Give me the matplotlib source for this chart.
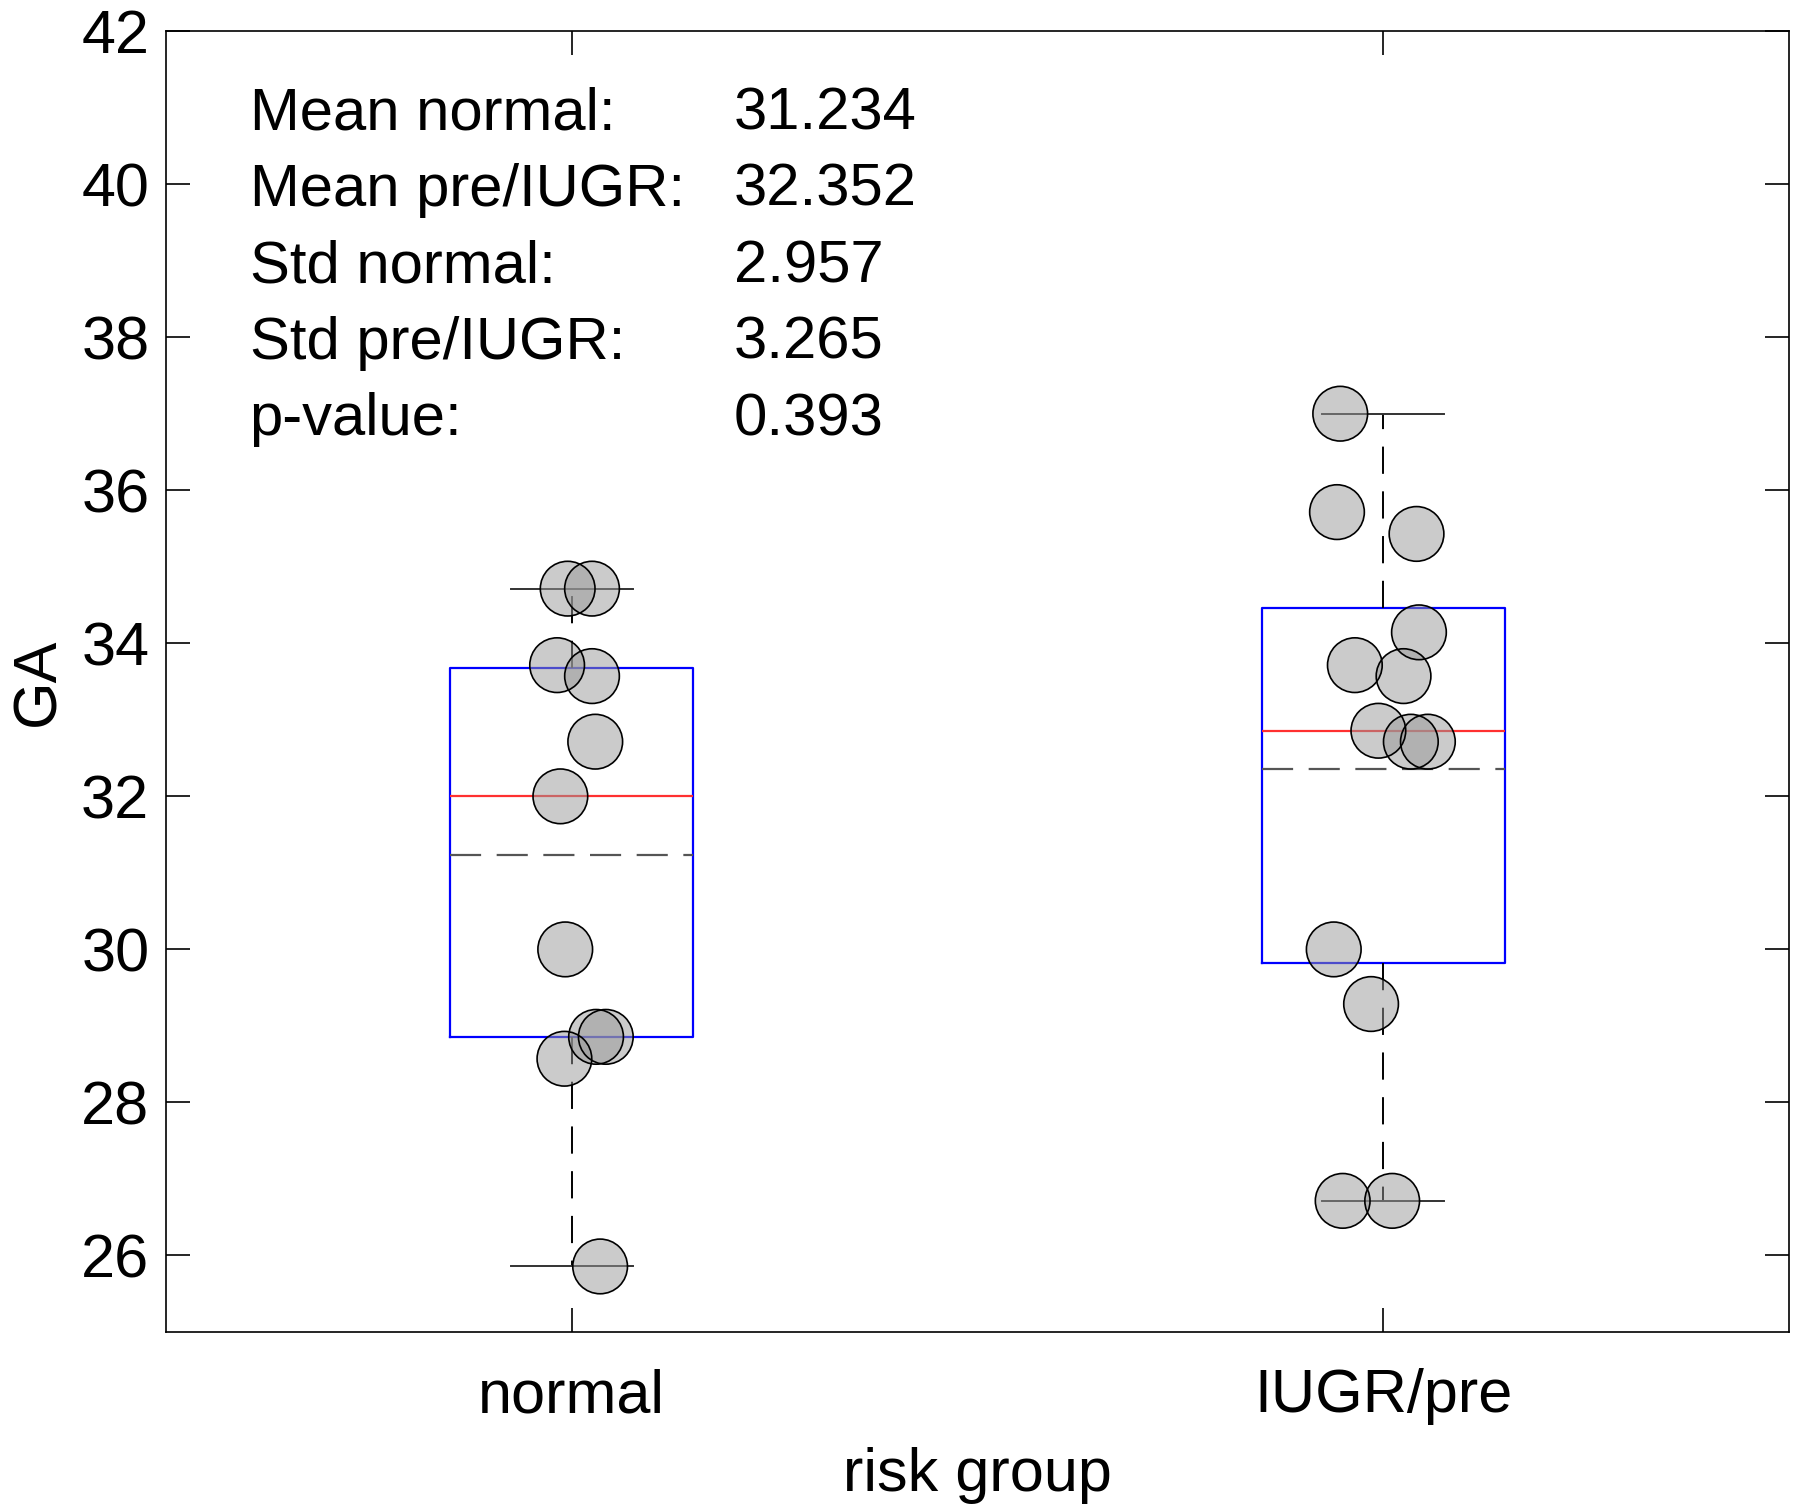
import numpy as np
import matplotlib
matplotlib.use("Agg")
import matplotlib.pyplot as plt

plt.rcParams['font.family'] = ['Liberation Sans', 'DejaVu Sans']

groups = ["normal", "IUGR/pre"]

# gestational age (weeks)
ga_normal = [34.714, 34.714, 33.714, 33.571, 32.714, 32.0, 30.0,
             28.857, 28.857, 28.571, 25.857]
jit_normal = [-0.005, 0.025, -0.018, 0.025, 0.029, -0.014, -0.008,
              0.030, 0.042, -0.009, 0.035]

ga_iugr = [37.0, 35.714, 35.429, 34.143, 33.714, 33.571, 32.857,
           32.714, 32.714, 30.0, 29.286, 26.714, 26.714]
jit_iugr = [-0.053, -0.057, 0.041, 0.044, -0.035, 0.025, -0.006,
            0.034, 0.055, -0.061, -0.015, -0.050, 0.011]

p_value = 0.393

data = [np.array(ga_normal), np.array(ga_iugr)]
jitter = [jit_normal, jit_iugr]

stats = []
for d in data:
    q1, med, q3 = np.percentile(d, [25, 50, 75], method="hazen")
    stats.append({"med": med, "q1": q1, "q3": q3,
                  "whislo": d.min(), "whishi": d.max(),
                  "mean": d.mean(), "fliers": []})

fig = plt.figure(figsize=(18, 15.08), dpi=100)
ax = fig.add_axes([0.0922, 0.1167, 0.9017, 0.8627])

ax.bxp(stats, positions=[1, 2], widths=0.3, showmeans=True, meanline=True,
       boxprops=dict(color="blue", linewidth=1.6),
       medianprops=dict(color="#ff3030", linewidth=1.6),
       meanprops=dict(color="#555555", linewidth=1.6, linestyle=(0, (14, 7))),
       whiskerprops=dict(color="black", linewidth=1.4, linestyle=(0, (14, 9))),
       capprops=dict(color="#333333", linewidth=1.4),
       capwidths=0.15)

for i, d in enumerate(data):
    x = (i + 1) + np.array(jitter[i])
    ax.scatter(x, d, s=1550, facecolor="#999999", alpha=0.5,
               edgecolor="none", zorder=5)
    ax.scatter(x, d, s=1550, facecolor="none", edgecolor="black",
               linewidth=1.2, zorder=6)

ax.set_xlim(0.5, 2.5)
ax.set_ylim(25, 42)
ax.set_yticks(np.arange(26, 43, 2))
ax.set_xticks([1, 2])
ax.set_xticklabels(groups)
ax.tick_params(axis="both", direction="in", length=17, width=1.2,
               labelsize=44, top=True, right=True, pad=12)
ax.tick_params(axis="x", pad=26)
for s in ax.spines.values():
    s.set_linewidth(1.2)

ax.set_xlabel("risk group", fontsize=44, labelpad=16)
ax.set_ylabel("GA", fontsize=44, labelpad=10)

labels = ["Mean normal:", "Mean pre/IUGR:", "Std normal:", "Std pre/IUGR:", "p-value:"]
values = [data[0].mean(), data[1].mean(), data[0].std(ddof=1),
          data[1].std(ddof=1), p_value]
for k, (lab, val) in enumerate(zip(labels, values)):
    y = 41 - k - 0.28
    ax.text(0.603, y, lab, fontsize=43, va="baseline", ha="left")
    ax.text(1.2, y, f"{val:.3f}", fontsize=43, va="baseline", ha="left")

fig.savefig("out.png", dpi=100)
